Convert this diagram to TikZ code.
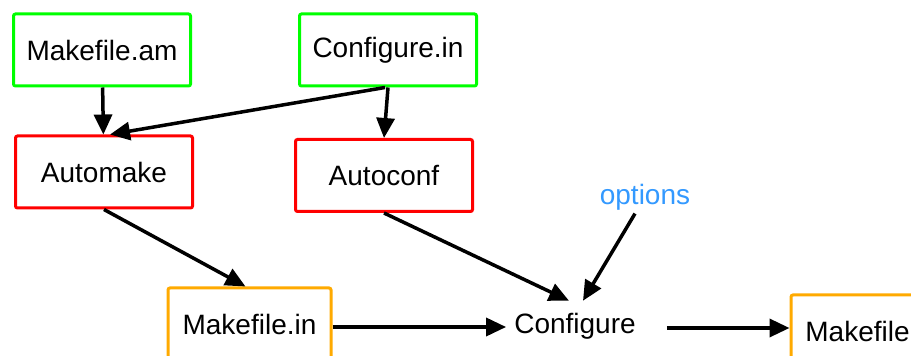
\documentclass[tikz,border=0pt]{standalone}
\usepackage{fontspec}
\setmainfont{Liberation Sans}
\usetikzlibrary{arrows.meta}
\definecolor{boxorange}{RGB}{255,170,0}
\definecolor{optblue}{RGB}{51,153,255}
\begin{document}
	\begin{tikzpicture}[x=1pt, y=1pt,
		font=\fontsize{28}{34}\selectfont,
		file/.style={draw, line width=3pt, rounded corners=2pt, minimum width=177pt, minimum height=72pt},
		arr/.style={line width=3.5pt, -{Triangle[length=20pt, width=18pt]}}]
		\useasboundingbox (0,0) rectangle (911,356);
		% Define sources
		\node[file, draw=green] (MakefileAm) at (102,306) {Makefile.am};
		\node[file, draw=green] (ConfigureIn) at (388,306) {Configure.in};
		
		\node[file, draw=red] (Automake) at (104,184) {Automake};
		\node[file, draw=red] (Autoconf) at (384,180.5) {Autoconf};
		\draw[arr] (MakefileAm) -- (Automake);
		\draw[arr] ([xshift=-3pt]ConfigureIn.south) -- ([xshift=6pt]Automake.north);
		\draw[arr] (ConfigureIn.south) -- (Autoconf.north);
		
		\node[file, draw=boxorange, minimum width=163pt] (MakefileIn) at (249.5,32) {Makefile.in};
		\node[inner xsep=8pt, inner ysep=12pt] (Configure) at (575,30) {Configure};
		\node[text=optblue] (Options) at (645,159) {options};
		\node[file, draw=boxorange, minimum width=133pt, anchor=north west] (Makefile) at (789.5,62.5) {Makefile};
		\draw[arr] (Automake.south) -- ([xshift=-4pt]MakefileIn.north);
		\draw[arr] (Autoconf.south) -- ([xshift=-6pt]Configure.north);
		\draw[arr] ([xshift=-10pt]Options.south) -- ([xshift=8pt]Configure.north);
		\draw[arr] ([yshift=-1pt]Configure.west -| MakefileIn.east) -- ([yshift=-1pt]Configure.west);
		\draw[arr, shorten <=23pt] ([yshift=-2pt]Configure.east) -- ([yshift=-2pt]Configure.east -| Makefile.west);
		
	\end{tikzpicture}
\end{document}
